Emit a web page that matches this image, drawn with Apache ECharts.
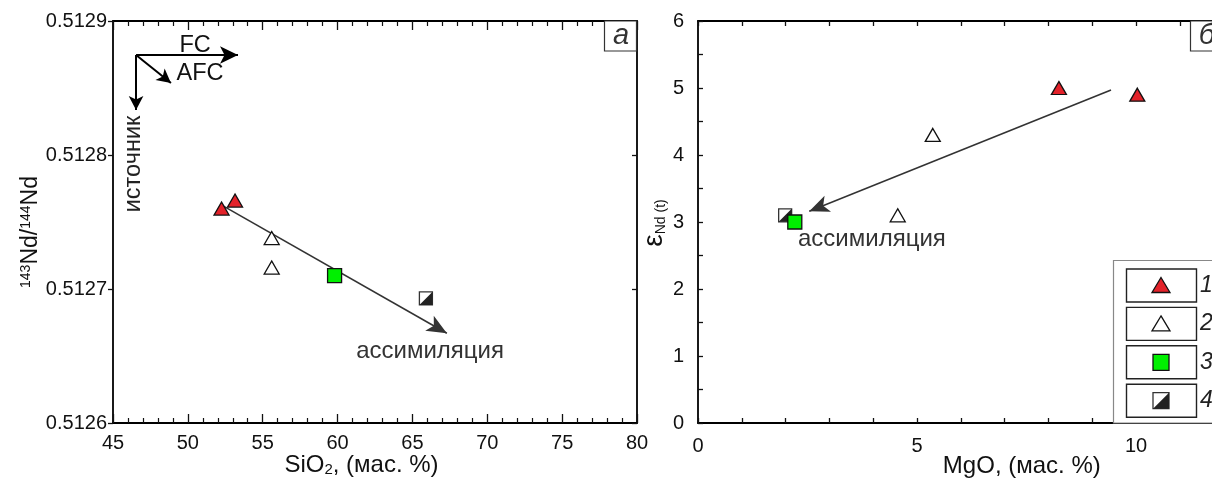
<!DOCTYPE html>
<html><head><meta charset="utf-8">
<script src="https://cdn.jsdelivr.net/npm/echarts@6/dist/echarts.min.js"></script>
<style>html,body{margin:0;padding:0;background:#fff}#c{width:1212px;height:481px}</style>
</head><body><div id="c"></div>
<script>
const FONT = "'Liberation Sans', Arial, sans-serif";

// ---- Panel а : SiO2 vs 143Nd/144Nd ----
const aXRange = [45, 80];
const aYRange = [0.5126, 0.5129];
const aGroup1 = [[52.25, 0.51276], [53.15, 0.512766]];
const aGroup2 = [[55.6, 0.512738], [55.6, 0.512716]];
const aGroup3 = [[59.8, 0.51271]];
const aGroup4 = [[65.9, 0.512693]];
const aTrend = [[52.35, 0.512762], [67.3, 0.512667]];
const aTrendLabelPos = [66.18, 0.5126534];
const aOrigin = [46.54, 0.5128746];
const aFCtip = [53.35, 0.5128746];
const aAFCtip = [48.87, 0.5128537];
const aSrcTip = [46.54, 0.5128336];
const aFCLabelPos = [50.48, 0.512882];
const aAFCLabelPos = [50.81, 0.512861];
const aSrcLabelPos = [46.4, 0.5127933];

// ---- Panel б : MgO vs εNd(t) ----
const bXRange = [0, 12];
const bYRange = [0, 6];
const bGroup1 = [[8.24, 5.0], [10.03, 4.9]];
const bGroup2 = [[5.36, 4.3], [4.56, 3.1]];
const bGroup3 = [[2.21, 3.0]];
const bGroup4 = [[1.99, 3.1]];
const bTrend = [[9.43, 4.97], [2.54, 3.16]];
const bTrendLabelPos = [3.97, 2.744];

const legendLabels = ['1', '2', '3', '4'];
const texts = { assim: 'ассимиляция', fc: 'FC', afc: 'AFC', src: 'источник', a: 'а', b: 'б' };

const RED = '#e3222a', GREEN = '#00f000', DARK = '#222';

const chart = echarts.init(document.getElementById('c'));

function xAx(grid, range, pos, opts) {
  return Object.assign({
    type: 'value', gridIndex: grid, position: pos, min: range[0], max: range[1],
    axisLine: { show: true, onZero: false, lineStyle: { color: '#000', width: 1.8 } },
    splitLine: { show: false },
    axisLabel: { show: pos === 'bottom', fontSize: 20, color: '#111', fontFamily: FONT, margin: 10 },
  }, opts);
}
function yAx(grid, range, pos, opts) {
  return Object.assign({
    type: 'value', gridIndex: grid, position: pos, min: range[0], max: range[1],
    axisLine: { show: true, onZero: false, lineStyle: { color: '#000', width: 1.8 } },
    splitLine: { show: false },
    axisLabel: { show: pos === 'left', fontSize: 20, color: '#111', fontFamily: FONT },
  }, opts);
}

const tri = (data, fill, xi, yi) => ({
  type: 'scatter', xAxisIndex: xi, yAxisIndex: yi, data, symbol: 'triangle', symbolSize: [15, 13],
  itemStyle: { color: fill, borderColor: '#111', borderWidth: 1.3, opacity: 1 }, z: 5
});
const sq = (data, xi, yi) => ({
  type: 'scatter', xAxisIndex: xi, yAxisIndex: yi, data, symbol: 'rect', symbolSize: 14,
  itemStyle: { color: GREEN, borderColor: '#111', borderWidth: 1.3, opacity: 1 }, z: 5
});
const half = (data, xi, yi) => ({
  type: 'custom', xAxisIndex: xi, yAxisIndex: yi, data, z: 5,
  renderItem: (params, api) => {
    const p = api.coord([api.value(0), api.value(1)]);
    const s = 13;
    return { type: 'group', children: [
      { type: 'rect', shape: { x: p[0] - s / 2, y: p[1] - s / 2, width: s, height: s }, style: { fill: '#fff', stroke: '#333', lineWidth: 1.3 } },
      { type: 'polygon', shape: { points: [[p[0] + s / 2, p[1] - s / 2], [p[0] + s / 2, p[1] + s / 2], [p[0] - s / 2, p[1] + s / 2]] }, style: { fill: DARK } }
    ] };
  }
});
const arrowLine = (from, to, xi, yi, color, width, head) => ({
  type: 'line', xAxisIndex: xi, yAxisIndex: yi, data: [], silent: true,
  markLine: {
    silent: true, animation: false, label: { show: false },
    lineStyle: { color, width, type: 'solid' },
    emphasis: { disabled: true },
    data: [[{ coord: from, symbol: 'none' }, { coord: to, symbol: 'arrow', symbolSize: head }]]
  }
});

chart.setOption({
  animation: false,
  textStyle: { fontFamily: FONT },
  grid: [
    { left: 113, top: 21, width: 524, height: 402, containLabel: false, outerBoundsMode: 'none' },
    { left: 698, top: 21, width: 525.6, height: 402, containLabel: false, outerBoundsMode: 'none' }
  ],
  xAxis: [
    xAx(0, aXRange, 'bottom', {
      interval: 5,
      axisTick: { inside: true, length: 9, lineStyle: { color: '#111', width: 1.3 } },
      minorTick: { show: true, splitNumber: 5, length: 5, lineStyle: { color: '#111', width: 1.2 } },
      name: '{n|SiO}{s|2}{n|, (мас. %)}', nameLocation: 'middle', nameGap: 30, nameMoveOverlap: false,
      nameTextStyle: { padding: [0, 27, 0, 0], rich: {
        n: { fontSize: 24, fontFamily: FONT, color: '#111' },
        s: { fontSize: 15, fontFamily: FONT, color: '#111', verticalAlign: 'bottom', padding: [9, 0, 0, 0] } } }
    }),
    xAx(0, aXRange, 'top', {
      interval: 5,
      axisTick: { inside: true, length: 9, lineStyle: { color: '#111', width: 1.3 } },
      minorTick: { show: true, splitNumber: 5, length: 5, lineStyle: { color: '#111', width: 1.2 } }
    }),
    xAx(1, bXRange, 'bottom', {
      interval: 1,
      axisTick: { inside: true, length: 5, lineStyle: { color: '#111', width: 1.3 } },
      axisLabel: { fontSize: 20, color: '#111', fontFamily: FONT, margin: 13, formatter: v => (v % 5 === 0 ? String(v) : '') },
      name: 'MgO, (мас. %)', nameLocation: 'middle', nameGap: 31, nameMoveOverlap: false,
      nameTextStyle: { fontSize: 24, fontFamily: FONT, color: '#111', padding: [0, 0, 0, 122] }
    }),
    xAx(1, bXRange, 'top', {
      interval: 1,
      axisTick: { inside: true, length: 5, lineStyle: { color: '#111', width: 1.3 } }
    })
  ],
  yAxis: [
    yAx(0, aYRange, 'left', {
      interval: 0.0001,
      axisTick: { inside: false, length: 5, lineStyle: { color: '#111', width: 1.3 } },
      axisLabel: { fontSize: 20, color: '#111', fontFamily: FONT, margin: 6, formatter: v => v.toFixed(4) },
      name: '{s|143}{n|Nd/}{s|144}{n|Nd}', nameLocation: 'middle', nameGap: 66, nameRotate: 90,
      nameTextStyle: { padding: [0, 20, 0, 0], rich: {
        n: { fontSize: 23, fontFamily: FONT, color: '#111' },
        s: { fontSize: 14, fontFamily: FONT, color: '#111', verticalAlign: 'top', padding: [0, 0, 8, 0] } } }
    }),
    yAx(0, aYRange, 'right', {
      interval: 0.0001,
      axisTick: { inside: true, length: 5, lineStyle: { color: '#111', width: 1.3 } }
    }),
    yAx(1, bYRange, 'left', {
      interval: 1,
      axisTick: { inside: true, length: 5, lineStyle: { color: '#111', width: 1.3 } },
      minorTick: { show: true, splitNumber: 2, length: 5, lineStyle: { color: '#111', width: 1.3 } },
      axisLabel: { fontSize: 20, color: '#111', fontFamily: FONT, margin: 14 },
      name: '{e|ε}{s|Nd (t)}', nameLocation: 'middle', nameGap: 30, nameRotate: 90,
      nameTextStyle: { padding: [0, 2, 0, 0], rich: {
        e: { fontSize: 28, fontFamily: FONT, color: '#111' },
        s: { fontSize: 14, fontFamily: FONT, color: '#111', verticalAlign: 'bottom', padding: [9, 0, 0, 0] } } }
    }),
    yAx(1, bYRange, 'right', {
      interval: 1,
      axisTick: { inside: true, length: 5 }
    })
  ],
  series: [
    arrowLine(aTrend[0], aTrend[1], 0, 0, '#333', 1.6, [13, 20]),
    arrowLine(aOrigin, aFCtip, 0, 0, '#000', 2, [13, 18]),
    arrowLine(aOrigin, aAFCtip, 0, 0, '#000', 2, [11, 14]),
    arrowLine(aOrigin, aSrcTip, 0, 0, '#000', 2, [11, 14]),
    tri(aGroup1, RED, 0, 0),
    tri(aGroup2, '#fff', 0, 0),
    sq(aGroup3, 0, 0),
    half(aGroup4, 0, 0),
    arrowLine(bTrend[0], bTrend[1], 2, 2, '#333', 1.6, [13, 20]),
    tri(bGroup1, RED, 2, 2),
    tri(bGroup2, '#fff', 2, 2),
    sq(bGroup3, 2, 2),
    half(bGroup4, 2, 2)
  ]
});

// ---- annotations & legend (graphic) ----
const pa = p => chart.convertToPixel({ gridIndex: 0 }, p);
const pb = p => chart.convertToPixel({ gridIndex: 1 }, p);
const txt = (pos, text, size, extra) => ({
  type: 'text', x: pos[0], y: pos[1], z: 50,
  style: Object.assign({ text, fontSize: size, fontFamily: FONT, fill: '#222', align: 'center', verticalAlign: 'middle' }, extra || {})
});

const g = [];
g.push(txt(pa(aTrendLabelPos), texts.assim, 24, { fill: '#333' }));
g.push(txt(pb(bTrendLabelPos), texts.assim, 24, { fill: '#333' }));
g.push(txt(pa(aFCLabelPos), texts.fc, 23.5, { fill: '#111' }));
g.push(txt(pa(aAFCLabelPos), texts.afc, 23.5, { fill: '#111' }));
const sp = pa(aSrcLabelPos);
g.push({ type: 'text', x: sp[0], y: sp[1], rotation: Math.PI / 2, z: 50,
  style: { text: texts.src, fontSize: 23.5, fontFamily: FONT, fill: '#222', align: 'center', verticalAlign: 'middle' } });

// panel labels
g.push({ type: 'rect', z: 60, shape: { x: 604.5, y: 21, width: 32, height: 30 }, style: { fill: '#fff', stroke: '#333', lineWidth: 1.2 } });
g.push({ type: 'text', z: 61, x: 621, y: 36, style: { text: texts.a, fontSize: 29, fontStyle: 'italic', fontFamily: FONT, fill: '#333', align: 'center', verticalAlign: 'middle' } });
g.push({ type: 'rect', z: 60, shape: { x: 1190.5, y: 21, width: 40, height: 30 }, style: { fill: '#fff', stroke: '#333', lineWidth: 1.2 } });
g.push({ type: 'text', z: 61, x: 1207, y: 36, style: { text: texts.b, fontSize: 29, fontStyle: 'italic', fontFamily: FONT, fill: '#333', align: 'center', verticalAlign: 'middle' } });

// legend
g.push({ type: 'rect', z: 80, shape: { x: 1113.5, y: 260.5, width: 140, height: 162.5 }, style: { fill: '#fff', stroke: '#888', lineWidth: 1.2 } });
legendLabels.forEach((lab, i) => {
  const y0 = 269 + i * 38.4;
  const cx = 1161, cy = y0 + 16.5;
  g.push({ type: 'rect', z: 81, shape: { x: 1126.5, y: y0, width: 70, height: 33 }, style: { fill: '#fff', stroke: '#222', lineWidth: 1.4 } });
  if (i < 2) {
    g.push({ type: 'polygon', z: 82, shape: { points: [[cx, cy - 8], [cx + 9, cy + 7], [cx - 9, cy + 7]] }, style: { fill: i === 0 ? RED : '#fff', stroke: '#111', lineWidth: 1.3 } });
  } else if (i === 2) {
    g.push({ type: 'rect', z: 82, shape: { x: cx - 8, y: cy - 8, width: 16, height: 16 }, style: { fill: GREEN, stroke: '#111', lineWidth: 1.3 } });
  } else {
    g.push({ type: 'rect', z: 82, shape: { x: cx - 8, y: cy - 8, width: 16, height: 16 }, style: { fill: '#fff', stroke: '#333', lineWidth: 1.3 } });
    g.push({ type: 'polygon', z: 83, shape: { points: [[cx + 8, cy - 8], [cx + 8, cy + 8], [cx - 8, cy + 8]] }, style: { fill: DARK } });
  }
  g.push({ type: 'text', z: 82, x: 1200, y: cy, style: { text: lab, fontSize: 23, fontStyle: 'italic', fontFamily: FONT, fill: '#222', align: 'left', verticalAlign: 'middle' } });
});
chart.setOption({ graphic: g });
</script>
</body></html>
